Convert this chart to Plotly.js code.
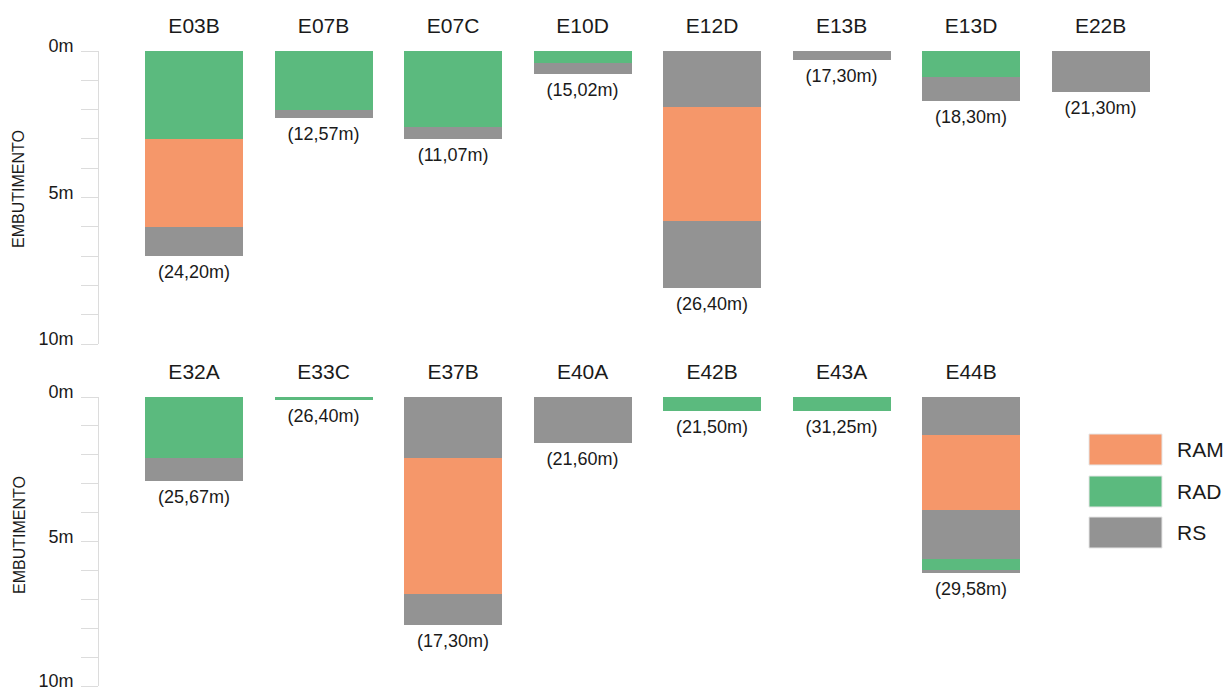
<!DOCTYPE html>
<html>
<head>
<meta charset="utf-8">
<script src="https://cdn.plot.ly/plotly-3.0.1.min.js"></script>
<style>html,body{margin:0;padding:0;background:#fff;}#chart{width:1227px;height:692px;}</style>
</head>
<body>
<div id="chart"></div>
<script>
// ---- data ----
const depthTicks = [0,1,2,3,4,5,6,7,8,9,10];
const depthTickText = ['0m','','','','','5m','','','','','10m'];
const soilTypes = ['RAM','RAD','RS'];

// top row
const topStations = ['E03B','E07B','E07C','E10D','E12D','E13B','E13D','E22B'];
const topLengthLabels = ['(24,20m)','(12,57m)','(11,07m)','(15,02m)','(26,40m)','(17,30m)','(18,30m)','(21,30m)'];
const topLayer1Type = ['RAD','RAD','RAD','RAD','RS','RS','RAD','RS'];
const topLayer1 = [3.0, 2.0, 2.6, 0.4, 1.9, 0.3, 0.9, 1.4];
const topLayer2Type = ['RAM','RS','RS','RS','RAM',null,'RS',null];
const topLayer2 = [3.0, 0.3, 0.4, 0.4, 3.9, null, 0.8, null];
const topLayer3Type = ['RS',null,null,null,'RS',null,null,null];
const topLayer3 = [1.0, null, null, null, 2.3, null, null, null];

// bottom row
const botStations = ['E32A','E33C','E37B','E40A','E42B','E43A','E44B'];
const botLengthLabels = ['(25,67m)','(26,40m)','(17,30m)','(21,60m)','(21,50m)','(31,25m)','(29,58m)'];
const botLayer1Type = ['RAD','RAD','RS','RS','RAD','RAD','RS'];
const botLayer1 = [2.1, 0.1, 2.1, 1.6, 0.5, 0.5, 1.3];
const botLayer2Type = ['RS',null,'RAM',null,null,null,'RAM'];
const botLayer2 = [0.8, null, 4.7, null, null, null, 2.6];
const botLayer3Type = [null,null,'RS',null,null,null,'RS'];
const botLayer3 = [null, null, 1.1, null, null, null, 1.7];
const botLayer4Type = [null,null,null,null,null,null,'RAD'];
const botLayer4 = [null, null, null, null, null, null, 0.4];
const botLayer5Type = [null,null,null,null,null,null,'RS'];
const botLayer5 = [null, null, null, null, null, null, 0.1];

// ---- styles ----
const colors = {RAM:'#F5976A', RAD:'#5BBA7E', RS:'#939393'};
const FONT = '"Liberation Sans", Arial, Helvetica, sans-serif';
const TXT = '#1a1a1a';

function layerTrace(x, vals, types, xa, ya){
  return {
    type:'bar', x:x, y:vals, xaxis:xa, yaxis:ya,
    marker:{color:types.map(t => t ? colors[t] : 'rgba(0,0,0,0)'), line:{width:0}},
    hoverinfo:'x+y', showlegend:false
  };
}
function totals(layers, n){
  const out = [];
  for(let i=0;i<n;i++){ let s=0; layers.forEach(l => { s += (l[i]||0); }); out.push(s); }
  return out;
}

const traces = [];
[[topLayer1,topLayer1Type],[topLayer2,topLayer2Type],[topLayer3,topLayer3Type]].forEach(([v,t]) =>
  traces.push(layerTrace(topStations, v, t, 'x', 'y')));
[[botLayer1,botLayer1Type],[botLayer2,botLayer2Type],[botLayer3,botLayer3Type],[botLayer4,botLayer4Type],[botLayer5,botLayer5Type]].forEach(([v,t]) =>
  traces.push(layerTrace(botStations, v, t, 'x2', 'y2')));

function labelTrace(x, y, text, xa, ya){
  return {type:'scatter', mode:'markers+text', x:x, y:y, text:text, textposition:'bottom center',
    marker:{size:12, color:'rgba(0,0,0,0)'},
    textfont:{family:FONT, size:18, color:TXT},
    xaxis:xa, yaxis:ya, hoverinfo:'skip', showlegend:false, cliponaxis:false};
}
traces.push(labelTrace(topStations, totals([topLayer1,topLayer2,topLayer3], topStations.length), topLengthLabels, 'x', 'y'));
traces.push(labelTrace(botStations, totals([botLayer1,botLayer2,botLayer3,botLayer4,botLayer5], botStations.length), botLengthLabels, 'x2', 'y2'));

const xRange = [-0.734, 7.976];
function xAxis(cats, anchor){
  return {type:'category', categoryarray:cats, categoryorder:'array', range:xRange, anchor:anchor,
    side:'top', showgrid:false, zeroline:false, showline:false,
    ticks:'outside', ticklen:9, tickcolor:'rgba(0,0,0,0)',
    tickfont:{family:FONT, size:21, color:TXT}, fixedrange:true};
}
function yAxis(domain, anchor){
  return {domain:domain, anchor:anchor, range:[10,0], autorange:false,
    tickmode:'array', tickvals:depthTicks, ticktext:depthTickText,
    ticks:'outside', ticklen:17, tickcolor:'#dcdcdc', tickwidth:1,
    ticklabelstandoff:4, ticklabelshift:5, ticklabeloverflow:'allow',
    showline:true, linecolor:'#dcdcdc', linewidth:1,
    showgrid:false, zeroline:false,
    tickfont:{family:FONT, size:18, color:TXT}, fixedrange:true};
}

const L = 99, W = 1128, T = 51, B = 6, H = 692 - T - B;
const px = x => (x - L)/W;
const py = y => (T + H - y)/H;
const topDomain = [py(344), 1];
const botDomain = [0, py(397)];

const shapes = [];
const annotations = [];
const legendRows = [[434,465],[476,507],[517,548]];
soilTypes.forEach((s,i) => {
  const [y0,y1] = legendRows[i];
  shapes.push({type:'rect', xref:'paper', yref:'paper', x0:px(1089), x1:px(1162), y0:py(y1), y1:py(y0),
    fillcolor:colors[s], line:{width:1, color:'#e6e6e6'}});
  annotations.push({xref:'paper', yref:'paper', x:px(1175), y:py((y0+y1)/2), xanchor:'left', yanchor:'middle',
    text:s, showarrow:false, font:{family:FONT, size:21, color:TXT}});
});
annotations.push({xref:'paper', yref:'paper', x:px(19), y:py(189), text:'EMBUTIMENTO', textangle:-90,
  showarrow:false, xanchor:'center', yanchor:'middle', font:{family:FONT, size:16, color:TXT}});
annotations.push({xref:'paper', yref:'paper', x:px(19), y:py(535), text:'EMBUTIMENTO', textangle:-90,
  showarrow:false, xanchor:'center', yanchor:'middle', font:{family:FONT, size:16, color:TXT}});

const layout = {
  width:1227, height:692,
  margin:{l:L, r:0, t:T, b:B},
  paper_bgcolor:'#fff', plot_bgcolor:'#fff',
  barmode:'stack', bargap:0.243,
  showlegend:false,
  xaxis:xAxis(topStations,'y'),
  yaxis:yAxis(topDomain,'x'),
  xaxis2:xAxis(botStations,'y2'),
  yaxis2:yAxis(botDomain,'x2'),
  shapes:shapes, annotations:annotations,
  font:{family:FONT, color:TXT}
};

Plotly.newPlot('chart', traces, layout, {displayModeBar:false, staticPlot:true});
</script>
</body>
</html>
